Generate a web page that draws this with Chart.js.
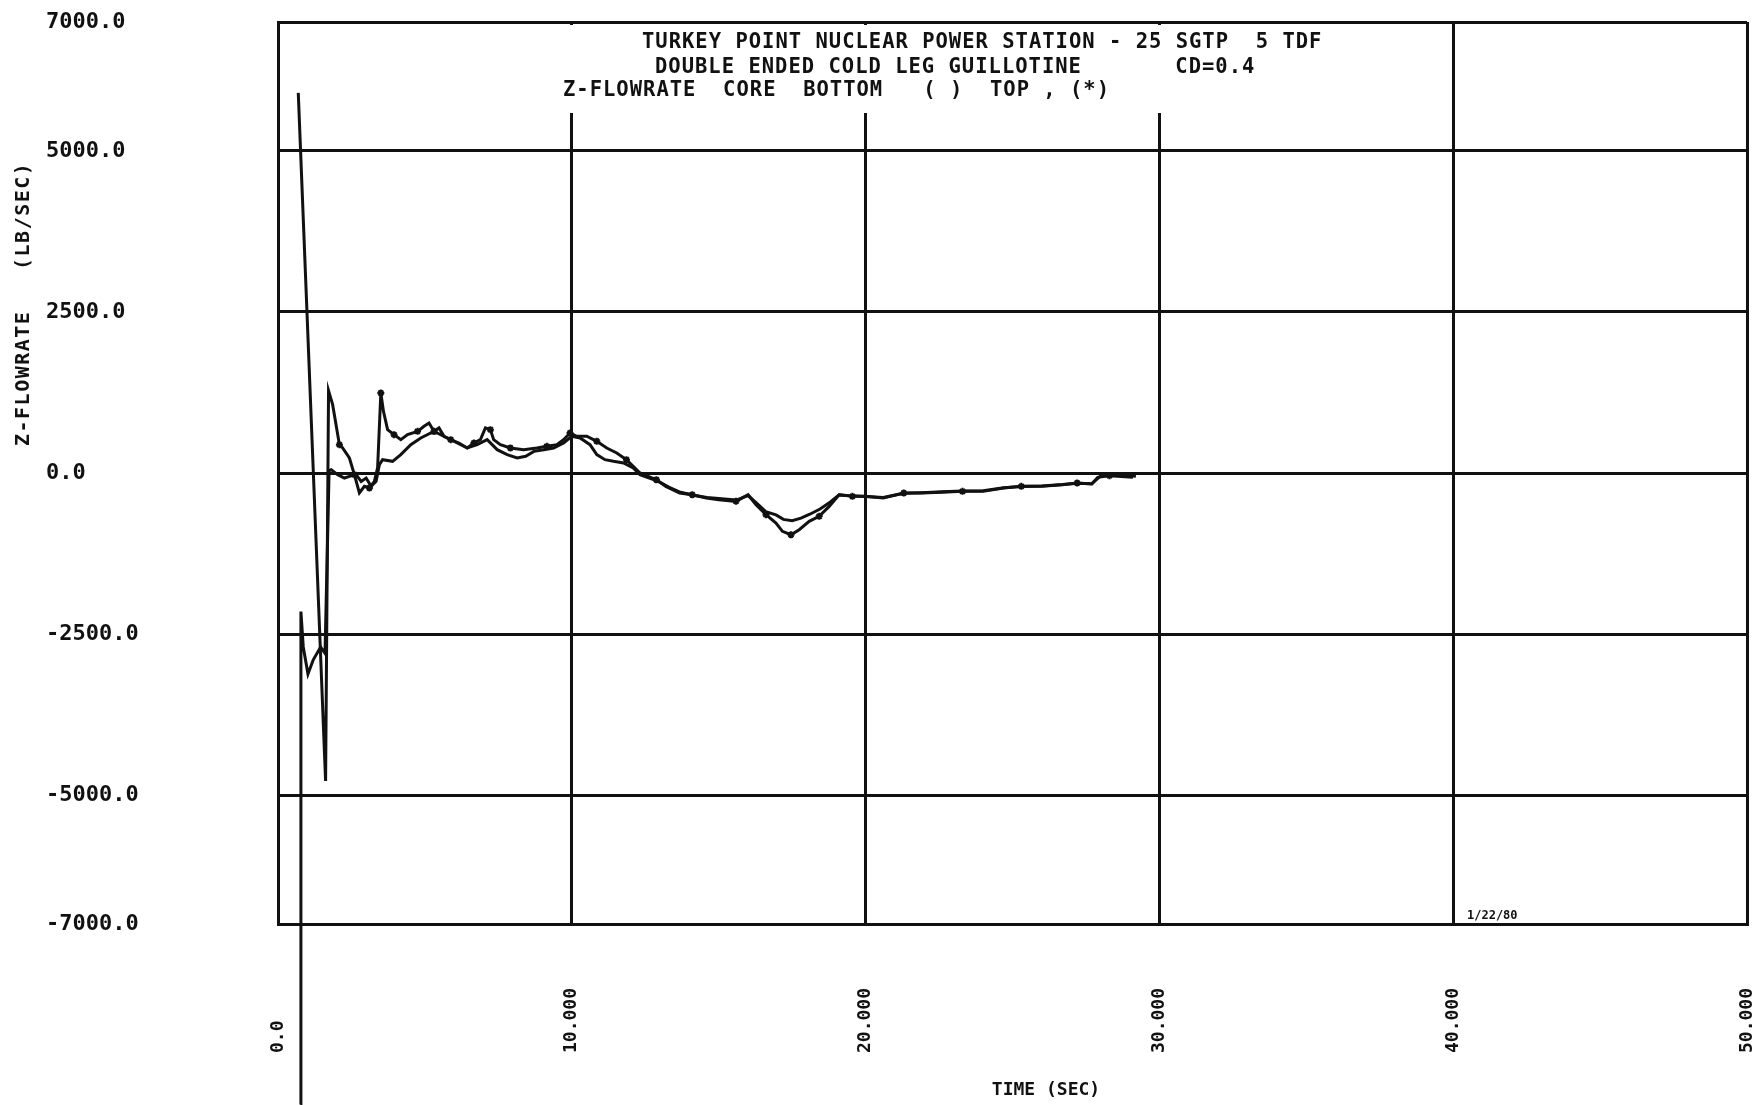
<!DOCTYPE html>
<html>
<head>
<meta charset="utf-8">
<title>Z-FLOWRATE CORE</title>
<script src="https://cdn.jsdelivr.net/npm/chart.js@4.4.1/dist/chart.umd.min.js"></script>
<style>
  html, body { margin: 0; padding: 0; background: #fff; }
  #wrap { width: 1756px; height: 1105px; position: relative; }
</style>
</head>
<body>
<div id="wrap"><canvas id="flowChart"></canvas></div>
<script>
// Z-flowrate at the core top (*) and core bottom ( ), time in sec, flow in lb/sec
const topTime = [0.69, 1.62, 1.72, 1.86, 2.09, 2.20, 2.43, 2.60, 2.77, 2.94,
  3.11, 3.28, 3.39, 3.50, 3.59, 3.73, 3.95, 4.18, 4.41, 4.75,
  4.97, 5.14, 5.31, 5.48, 5.65, 5.88, 6.16, 6.44, 6.67, 6.89,
  7.06, 7.23, 7.34, 7.57, 7.91, 8.36, 8.81, 9.15, 9.49, 9.72,
  9.94, 10.17, 10.51, 10.85, 11.19, 11.53, 11.86, 12.09, 12.32, 12.88,
  13.20, 13.67, 14.10, 14.58, 15.00, 15.59, 16.00, 16.27, 16.61, 16.95,
  17.17, 17.46, 17.74, 18.08, 18.42, 18.76, 19.10, 19.55, 19.98, 20.60,
  21.30, 21.90, 22.60, 23.30, 24.00, 24.70, 25.30, 26.00, 26.70, 27.20,
  27.70, 27.90, 28.30, 29.10];
const topFlow = [5900, -4780, 1278, 1061, 440, 388, 233, -26, -310, -207,
  -233, -130, 78, 1242, 957, 673, 595, 517, 595, 647,
  725, 776, 647, 700, 570, 517, 466, 388, 466, 517,
  700, 673, 517, 440, 388, 362, 388, 414, 440, 517,
  621, 570, 570, 492, 388, 310, 207, 103, 0, -104,
  -207, -311, -337, -388, -414, -440, -337, -492, -647, -777,
  -906, -958, -880, -751, -673, -518, -337, -362, -362, -388,
  -311, -311, -300, -285, -285, -233, -207, -207, -181, -155,
  -171, -67, -41, -67];

const bottomTime = [0.76, 0.78, 0.86, 1.02, 1.20, 1.45, 1.60, 1.74, 1.81, 2.03,
  2.26, 2.43, 2.66, 2.83, 3.00, 3.17, 3.34, 3.45, 3.56, 3.90,
  4.18, 4.52, 4.86, 5.20, 5.42, 5.76, 6.10, 6.44, 6.78, 7.12,
  7.46, 7.80, 8.14, 8.43, 8.71, 9.05, 9.38, 9.72, 10.00, 10.28,
  10.62, 10.85, 11.13, 11.42, 11.76, 12.09, 12.32, 12.90, 13.30, 13.70,
  14.20, 14.60, 15.10, 15.60, 16.00, 16.30, 16.60, 16.95, 17.20, 17.50,
  17.80, 18.10, 18.45, 18.80, 19.10, 19.50, 20.00, 20.60, 21.30, 21.90,
  22.60, 23.30, 24.00, 24.70, 25.30, 26.00, 26.70, 27.20, 27.70, 28.00,
  28.50, 29.20];
const bottomFlow = [-9800, -2150, -2700, -3120, -2900, -2700, -2800, 40, 52, -26,
  -78, -52, -26, -130, -78, -207, -130, 130, 207, 181,
  285, 440, 543, 621, 621, 543, 466, 388, 440, 517,
  362, 285, 233, 259, 336, 362, 388, 466, 570, 543,
  440, 285, 207, 181, 155, 78, -26, -120, -220, -300,
  -350, -380, -400, -420, -350, -470, -600, -650, -720, -740,
  -700, -640, -560, -450, -340, -355, -365, -380, -315, -305,
  -290, -280, -275, -230, -210, -200, -180, -160, -165, -45,
  -25, -50];

const xTicks = [0, 10, 20, 30, 40, 50];
const xTickLabels = ['0.0', '10.000', '20.000', '30.000', '40.000', '50.000'];
const yTicks = [7000, 5000, 2500, 0, -2500, -5000, -7000];
const yTickLabels = ['7000.0', '5000.0', '2500.0', '0.0', '-2500.0', '-5000.0', '-7000.0'];

const titleLines = [
  'TURKEY POINT NUCLEAR POWER STATION - 25 SGTP  5 TDF',
  'DOUBLE ENDED COLD LEG GUILLOTINE       CD=0.4',
  'Z-FLOWRATE  CORE  BOTTOM   ( )  TOP , (*)'
];
const yTitle = 'Z-FLOWRATE   (LB/SEC)';
const xTitle = 'TIME (SEC)';
const dateStamp = '1/22/80';

const INK = '#111';
const MONO = '"DejaVu Sans Mono", monospace';

// plotter style text: title block, axis titles, date stamp
const plotterText = {
  id: 'plotterText',
  beforeDatasetsDraw(chart) {
    const { ctx, chartArea } = chart;
    ctx.save();
    // the inner grid lines stop below the title block
    ctx.fillStyle = '#fff';
    ctx.fillRect(555, chartArea.top + 3, 790, 88);
    ctx.fillStyle = INK;
    ctx.font = 'bold 20.5px ' + MONO;
    ctx.letterSpacing = '1px';
    ctx.textAlign = 'left';
    ctx.textBaseline = 'middle';
    ctx.fillText(titleLines[0], 642, 43);
    ctx.fillText(titleLines[1], 655, 68);
    ctx.fillText(titleLines[2], 563, 91);
    ctx.restore();
  },
  afterDraw(chart) {
    const { ctx } = chart;
    ctx.save();
    ctx.fillStyle = INK;
    ctx.textBaseline = 'middle';

    ctx.save();
    ctx.font = 'bold 20px ' + MONO;
    ctx.letterSpacing = '1.5px';
    ctx.translate(24, 446);
    ctx.rotate(-Math.PI / 2);
    ctx.textAlign = 'left';
    ctx.fillText(yTitle, 0, 0);
    ctx.restore();

    ctx.font = 'bold 18px ' + MONO;
    ctx.textAlign = 'center';
    ctx.fillText(xTitle, 1046, 1090);

    ctx.font = 'bold 12px ' + MONO;
    ctx.textAlign = 'left';
    ctx.fillText(dateStamp, 1467, 916);
    ctx.restore();
  }
};

const ctx = document.getElementById('flowChart');

const chart = new Chart(ctx, {
  type: 'line',
  data: {
    datasets: [
      {
        label: 'CORE TOP',
        data: topTime.map((t, i) => ({ x: t, y: topFlow[i] })),
        borderColor: INK,
        borderWidth: 3,
        tension: 0,
        clip: false,
        // small symbols along the top curve, as in the (*) legend
        pointStyle: 'star',
        pointRadius: c => (c.dataIndex > 3 && c.dataIndex % 3 === 1 ? 3.5 : 0),
        pointBorderColor: INK,
        pointBorderWidth: 2
      },
      {
        label: 'CORE BOTTOM',
        data: bottomTime.map((t, i) => ({ x: t, y: bottomFlow[i] })),
        borderColor: INK,
        borderWidth: 3,
        pointRadius: 0,
        tension: 0,
        clip: false
      }
    ]
  },
  options: {
    responsive: true,
    maintainAspectRatio: false,
    animation: false,
    layout: { padding: { left: 46, right: 9, top: 22, bottom: 0 } },
    scales: {
      x: {
        type: 'linear',
        min: 0,
        max: 50,
        afterBuildTicks: s => { s.ticks = xTicks.map(v => ({ value: v })); },
        afterFit: s => { s.height = 181; s.paddingLeft = 0; s.paddingRight = 0; },
        grid: { color: INK, lineWidth: 3, drawTicks: false },
        border: { display: true, color: INK, width: 3 },
        ticks: {
          autoSkip: false,
          minRotation: 90,
          maxRotation: 90,
          padding: 64,
          color: INK,
          font: { family: MONO, size: 18, weight: 'bold' },
          // pad so every label starts at the same baseline
          callback: (v, i) => xTickLabels[i].padEnd(6)
        }
      },
      y: {
        min: -7000,
        max: 7000,
        afterBuildTicks: s => { s.ticks = yTicks.map(v => ({ value: v })); },
        afterFit: s => { s.width = 232; s.paddingTop = 0; s.paddingBottom = 0; },
        grid: { color: INK, lineWidth: 3, drawTicks: false },
        border: { display: true, color: INK, width: 3 },
        ticks: {
          crossAlign: 'far',
          color: INK,
          font: { family: MONO, size: 22, weight: 'bold' },
          callback: (v, i) => yTickLabels[i]
        }
      }
    },
    plugins: {
      legend: { display: false },
      tooltip: { enabled: false }
    }
  },
  plugins: [plotterText]
});
</script>
</body>
</html>
